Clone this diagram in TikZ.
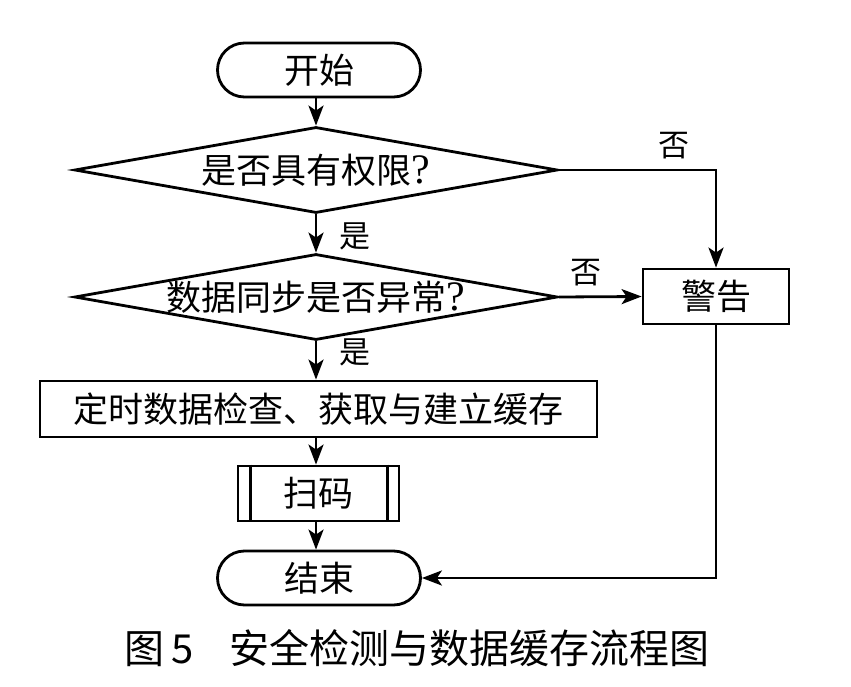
\documentclass[tikz,border=0pt]{standalone}
\usepackage{fontspec}
\newfontfamily\cjk{Noto Sans CJK SC}
\newfontfamily\qfont{Liberation Serif}
\newcommand{\qmk}{{\qfont\fontsize{42}{44}\selectfont ?}}
\usetikzlibrary{shapes.geometric,arrows.meta}
\begin{document}
\begin{tikzpicture}[x=1pt,y=-1pt,
  every node/.style={font=\cjk\fontsize{35}{38}\selectfont},
  base/.style={draw,line width=2.8pt,inner sep=0pt},
  term/.style={base,rectangle,rounded corners=27pt,minimum width=203pt,minimum height=54pt},
  decision/.style={base,diamond,shape aspect=5.7,minimum width=483pt,minimum height=86pt},
  procbox/.style={base,rectangle,minimum height=55pt},
  lbl/.style={font=\cjk\fontsize{31}{34}\selectfont},
  flow/.style={line width=2.8pt,-{Stealth[length=20pt,width=15pt,inset=5pt]}},
  plain/.style={line width=2.8pt}
]
\useasboundingbox (0,0) rectangle (851,687);
\node[term] (start) at (319,70) {开始};
\node[decision] (d1) at (316,170) {是否具有权限\qmk};
\node[decision] (d2) at (316,297) {数据同步是否异常\qmk};
\node[procbox,minimum width=146pt] (warn) at (716,296.5) {警告};
\node[procbox,minimum width=557pt,minimum height=56pt] (proc) at (318.5,409) {定时数据检查、获取与建立缓存};
\node[procbox,minimum width=161pt] (scan) at (318.5,493.5) {扫码};
\node[term] (end) at (319,578) {结束};
\draw[plain] ([xshift=14pt]scan.north west) -- ([xshift=14pt]scan.south west);
\draw[plain] ([xshift=-13pt]scan.north east) -- ([xshift=-13pt]scan.south east);
\coordinate (c1) at (716,170);
\coordinate (c2) at (716,578);
\draw[flow] (start.south -| d1.north) -- (d1.north);
\draw[flow] (d1.south) -- (d2.north);
\draw[flow] (d2.south) -- (d2.south |- proc.north);
\draw[flow] (proc.south -| d2.south) -- (scan.north -| d2.south);
\draw[flow] (scan.south -| d2.south) -- (end.north -| d2.south);
\draw[flow] (d1.east) -- (c1) -- (warn.north);
\draw[flow] (d2.east) -- (warn.west);
\draw[flow] (warn.south) -- (c2) -- (end.east);
\node[lbl] (y1) at (355,236) {是};
\node[lbl] (y2) at (355,352) {是};
\node[lbl] (n1) at (674,146) {否};
\node[lbl] (n2) at (586,273) {否};
\node[font=\cjk\fontsize{40}{44}\selectfont] (cap) at (417,648) {图\,5\hspace{0.9em}安全检测与数据缓存流程图};
\end{tikzpicture}
\end{document}
